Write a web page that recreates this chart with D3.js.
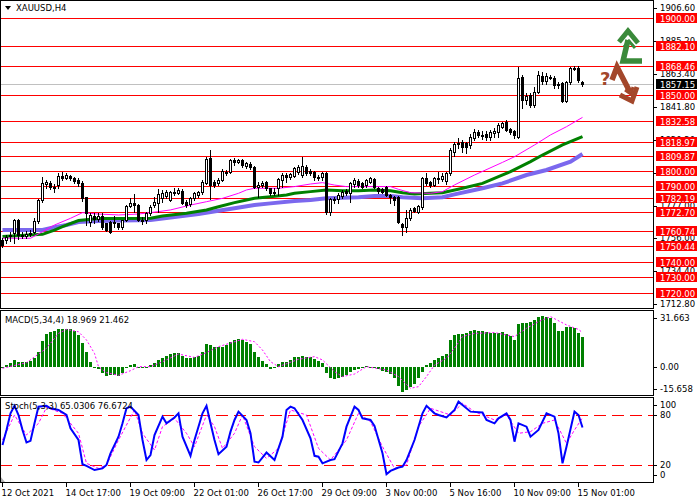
<!DOCTYPE html>
<html>
<head>
<meta charset="utf-8">
<script src="https://cdn.jsdelivr.net/npm/d3@7"></script>
<style>
  body { margin: 0; background: #fff; }
  svg text { font-family: "DejaVu Sans", sans-serif; font-size: 8.5px; }
</style>
</head>
<body>
<div id="viz"></div>
<script>
// XAUUSD H4 candles, 12 Oct 01:00 .. 15 Nov 05:00 (146 bars)
var openP = [1754.6,1754.6,1757,1759.0,1767.7,1758,1757.5,1758.5,1759.5,1767,
  1780.5,1791.1,1792.2,1789.6,1790.5,1796.5,1795.5,1796.5,1795,1794,
  1792.2,1782.5,1766.6,1770,1768.5,1770.3,1765.5,1766.6,1766.5,1765.5,
  1762.9,1767.7,1776.9,1779.1,1777.6,1767.7,1767.7,1772,1777.5,1778.6,
  1781.9,1783.4,1780.8,1786,1785.6,1786.9,1779.7,1778,1781.9,1784.1,
  1785.8,1791.7,1808.1,1792.8,1791.7,1793.9,1798.3,1799.4,1807,1806,
  1807,1803.1,1804.4,1802.2,1789.1,1790.6,1792.8,1788.5,1785.5,1788.5,
  1793.9,1797.2,1795.7,1796.6,1799,1797,1802.7,1800,1799,1795.7,
  1795.7,1798.3,1773.2,1781.3,1781.3,1783.4,1786.9,1785.2,1791.3,1793.5,
  1792.2,1790.6,1792.8,1794.8,1788.5,1787.8,1789.6,1784.1,1783,1783,
  1765.1,1763.3,1768.8,1775.4,1773.2,1776.4,1795,1792.8,1790.6,1794.6,
  1794.5,1793.5,1798.3,1812.5,1817.3,1818.6,1818,1816.9,1821.7,1825.6,
  1823.5,1823.9,1822.4,1824.5,1825.6,1828.9,1832.2,1827.4,1826,1822.4,
  1861.7,1846.4,1849.7,1843.1,1851.9,1862.4,1858.9,1861.7,1861.1,1856.3,
  1857.3,1845.8,1858,1867.6,1867.6,1858.5];
var highP = [1755.7,1757.9,1760,1768.1,1768.5,1760,1760.5,1761,1769,1781.5,
  1795.7,1794,1793.5,1791,1798.3,1799,1798.3,1797.5,1796,1795,
  1793,1783,1772,1772,1772.5,1772,1766,1767,1770.3,1766,
  1768,1777.5,1781.9,1784.8,1778.5,1769.5,1773,1777.5,1783,1787.8,
  1787.4,1787.4,1786.8,1788.5,1788.5,1788,1781,1783,1786,1787,
  1793.9,1809.2,1813.6,1794,1795,1800.9,1800.5,1807.5,1808.1,1808,
  1807.8,1806,1805.5,1803,1792.8,1793,1793.5,1789,1788.5,1795,
  1798.3,1798.3,1798.5,1802.5,1804,1809.2,1804,1801,1800,1797.2,
  1799.5,1799,1782,1782.6,1785.2,1787.4,1787.8,1792.8,1795,1794.4,
  1792.8,1794.8,1795.7,1795.2,1789.6,1788.5,1790,1784.6,1783.4,1783.4,
  1765.9,1774.3,1775.3,1776.4,1777.3,1795.7,1798.3,1793.5,1795.7,1799,
  1798.5,1799.5,1815,1819,1821.3,1820,1819,1824,1827.4,1827,
  1826,1826,1827,1828,1831.1,1832.2,1833,1828,1827,1868.3,
  1862.5,1851,1851,1855.2,1865.4,1864.5,1864,1862.5,1862,1858,
  1858.5,1859,1868.3,1868.5,1868.5,1859];
var lowP = [1750.2,1752.4,1754,1752.8,1755,1756,1756,1757,1759,1766,
  1779.5,1789,1788,1786,1789,1794,1794.5,1794,1792,1790,
  1780.2,1764.4,1763.8,1766,1767,1762,1760.6,1759.4,1762.9,1762,
  1761.6,1767,1776,1773.2,1767,1765,1766,1771,1776,1773.2,
  1779.7,1782,1780,1784,1784.5,1778,1776.5,1777,1781,1783,
  1785,1791,1781.3,1789.5,1790.5,1793,1797.5,1798.3,1803.8,1805,
  1802.7,1802,1801,1788.5,1783,1789.5,1787.5,1784,1784.1,1784.1,
  1789.6,1792.8,1794.5,1796,1798,1796,1797,1797,1794,1793.9,
  1794,1771.6,1771,1778.6,1778.6,1781.9,1784.1,1779.7,1789.6,1789.6,
  1788.5,1789.6,1792.2,1788.5,1785.6,1785.6,1783.4,1778.6,1777.5,1765.5,
  1757.9,1760,1767.7,1773,1772.5,1774.7,1790.6,1789.6,1790,1791.7,
  1793,1791,1797,1810,1815,1812.5,1811.4,1815,1820,1822,
  1821,1820,1820.2,1822,1822,1828,1826,1824,1821.5,1821.3,
  1840.9,1844,1842,1842,1851,1857,1857,1860,1854,1854.1,
  1845,1844.8,1857,1866,1858,1855.8];
var closeP = [1751.3,1756.8,1758,1767.7,1757.9,1757.5,1758.5,1759,1767.3,1780.8,
  1791.7,1792.8,1789.6,1788.5,1796.6,1795.5,1797,1795.5,1793.5,1791.7,
  1781.9,1772.5,1771,1768.5,1770.5,1762.9,1761.1,1760,1765.5,1763,
  1767.7,1776.9,1779.1,1777.5,1767.7,1767,1772.1,1776.4,1779.7,1784.8,
  1785.2,1786.3,1786.3,1785.5,1787.4,1778.6,1777.5,1781.9,1785.2,1786.3,
  1792.8,1807.7,1790.6,1790.6,1793.9,1800,1799.4,1807,1806,1807,
  1803.8,1804.9,1802.2,1789.6,1790.5,1792.2,1788.5,1785.2,1786.3,1794.4,
  1797.2,1796.1,1797.6,1801.6,1802.7,1803.1,1798.3,1798.3,1795.7,1795,
  1798.3,1773.2,1781.3,1780.5,1784.1,1786.3,1785.2,1791.7,1793.9,1790.6,
  1789.6,1793.9,1795,1789.6,1786.9,1786.3,1784.1,1782.6,1780.8,1766.6,
  1763.3,1768.8,1774.3,1773.8,1776.9,1795,1791.7,1790.6,1795,1795.5,
  1796.5,1798.3,1813.6,1817.3,1818.4,1815.8,1815.8,1822.4,1825.6,1823.5,
  1823,1822.4,1825.6,1826,1830,1831.1,1826.7,1825.6,1823.5,1861.1,
  1846.4,1849.3,1843.1,1851.9,1862.8,1858.9,1862.4,1861.1,1856.3,1857.2,
  1845.8,1858.4,1867.6,1866.7,1859.5,1857.15];

// moving averages (bar index, value)
var maFastIdx = [0,7,10,13,17,20,24,29,34,39,42,47,51,55,59,61,63,69,73,77,80,83,86,97,99,102,107,110,113,118,125,128,133,137,141,145];
var maFastVal = [1755.7,1755.7,1760,1764.4,1768.8,1772.5,1771.6,1771,1771.6,1773.2,1774.3,1777.5,1779.7,1781.9,1785.2,1787.4,1788.5,1788.5,1789.6,1791.3,1792.2,1790.6,1789.6,1789.6,1787.8,1785.6,1785.2,1786.3,1790.7,1797.2,1805.5,1809.2,1816.9,1823.5,1828.9,1835.0];
var maMidIdx = [0,10,13,15,19,24,30,37,40,46,51,54,58,61,63,67,71,73,77,81,85,89,93,97,100,103,107,110,115,120,124,127,132,135,140,145];
var maMidVal = [1756.8,1758.3,1761.1,1763.3,1767.3,1768.6,1768.6,1768.8,1770.3,1772.1,1774.3,1776.4,1779.1,1780.8,1781.9,1783,1784.1,1785.2,1786.3,1787.4,1786.9,1786.9,1787.4,1786.9,1785.6,1784.8,1785.2,1785.6,1788.5,1791.7,1796.1,1799.4,1806,1810.3,1816.9,1822.4];
var maSlowIdx = [0,10,13,16,19,24,30,37,42,49,54,58,63,67,73,77,81,89,93,97,100,105,110,113,120,125,131,136,142,145];
var maSlowVal = [1761.1,1761.1,1762.9,1764.4,1766.4,1767,1767.3,1767.7,1769.4,1771.6,1773.8,1775.4,1777.5,1778.6,1780.2,1780.8,1781.9,1782.6,1783.4,1783.4,1782.6,1781.9,1782.6,1784.5,1788.5,1791.7,1797.2,1800.5,1806,1811.0];

// horizontal levels
var levels = [1900.00,1882.10,1868.46,1850.00,1832.58,1818.97,1809.87,1800.00,1790.00,1782.19,1772.70,1760.74,1750.44,1740.00,1730.00,1720.00];
var lastPrice = 1857.15;
var priceTicks = [1906.60,1885.20,1863.40,1841.80,1820.20,1798.60,1777.00,1756.00,1734.40,1712.80];

// MACD(5,34,4)
var macdMain = [0.2,1,2.3,4.4,3.3,2.9,3.1,3.75,5.4,9.6,
  16.5,20.4,21.9,22.5,23.5,24,24,23.5,22.5,20,
  15.2,9.6,3.3,0.2,-1.5,-3.5,-5.6,-5.2,-5.2,-5.6,
  -4,-0.8,1,1.9,0.2,-0.8,-0.4,1,2.3,4.4,
  5.8,7.1,7.9,8.5,8.5,6.9,5.4,5.4,6,6.9,
  9.6,14.4,13.75,12.3,12.3,12.7,13.75,15.8,16.9,17.3,
  16.9,15.8,14.4,9.6,6,4,1.9,-1,0.2,1.9,
  3.1,3.3,4.4,6,6.5,6.9,6.5,6,4.8,4,
  2.3,-4,-7.1,-7.3,-6.9,-6,-5,-3.1,-1.9,-1.5,
  -0.8,0.4,0.2,-0.6,-1.5,-2.3,-2.9,-4.4,-7.1,-11.9,
  -15.6,-14.4,-12.3,-10.6,-7.1,-2.9,1,2.3,4.4,5.8,
  6.9,8.1,16.9,20,20.6,20.6,21.5,22.7,23.1,22.7,
  22.5,22.1,21.5,21.5,21.5,21.9,20.6,19.4,16.9,26.9,
  27.3,27.7,28.3,29.4,31.2,31.66,31.4,30.4,27.7,22.5,
  22.5,24.8,25.2,24.2,21,18.97];
var sigIdx = [0,6,11,14,16,19,21,23,24,26,29,32,34,37,40,44,48,51,54,60,63,65,67,69,74,78,80,83,85,88,91,96,99,102,104,106,108,111,113,115,118,123,128,131,134,137,141,144,145];
var sigVal = [-0.8,2.7,11.7,21,23.5,22,16.9,8.5,0.2,-3.5,-5.2,-2.3,0.2,0.2,3.3,8.1,6,9,12.7,17.3,15.8,10.6,3.3,0.2,4.8,6.5,4.4,-2.9,-6,-4.4,0.2,-1.9,-6,-13.3,-12.3,-6,1.2,5.4,11.7,19,21,21.5,19,24.2,28.3,31.5,26.3,23.5,21.46];
var macdTicks = [31.663, 0.00, -15.658];

// Stochastic(5,3,3)
var kIdx = [0,1,2,3,4,5,6,7,8,9,11,12,14,16,17,19,20,21,23,25,26,27,29,30,31,32,34,35,36,37,38,40,41,43,44,45,47,48,50,51,52,53,54,56,57,58,59,61,62,63,64,66,68,70,71,72,73,75,77,78,79,80,82,83,85,86,88,89,90,92,93,95,96,97,99,100,101,103,105,106,108,109,111,113,114,115,117,120,121,123,124,126,127,128,129,131,132,134,136,138,139,140,141,143,144,145];
var kVal = [44,62,82,91,80,62,47,49,70,90,91,88,86,80,64,50,21,19,14,16,20,34,54,70,88,90,80,50,26,32,56,78,70,77,82,54,31,50,82,91,70,50,33,42,60,74,84,74,58,24,23,35,26,54,86,90,88,74,52,31,30,22,26,27,46,66,90,86,76,74,67,34,9,13,17,18,26,50,82,91,82,80,77,86,96,92,84,83,74,70,76,82,74,48,70,66,54,62,82,78,58,22,42,84,80,65.03];
var dIdx = [0,3,6,9,11,15,19,21,24,26,29,33,35,38,40,43,46,48,51,53,55,58,60,63,66,69,72,76,79,82,86,89,92,95,98,101,104,107,112,115,118,123,126,129,132,135,138,141,143,145];
var dVal = [50,80,56,70,89,82,58,22,16,20,50,86,58,38,66,76,58,42,80,66,40,58,80,42,28,40,86,80,40,26,50,82,72,42,16,20,66,88,80,94,84,74,80,58,60,70,74,46,62,76.67];
var stochLevels = [80, 20];
var stochTicks = [100, 80, 20, 0];

// time axis
var timeIdx = [0,16,32,48,64,80,96,112,128,144];
var timeLabels = ["12 Oct 2021","14 Oct 17:00","19 Oct 09:00","22 Oct 01:00","26 Oct 17:00","29 Oct 09:00","3 Nov 00:00","5 Nov 16:00","10 Nov 09:00","15 Nov 01:00"];

var plotR = 653;

var svg = d3.select("#viz")
    .append("svg")
    .attr("width", 700)
    .attr("height", 500)
    .style("display", "block");

svg.append("rect").attr("width", 700).attr("height", 500).attr("fill", "#fff");

var x = d3.scaleLinear().domain([0, 145]).range([2.5, 582.5]);
var yP = d3.scaleLinear().domain([1720, 1900]).range([292.7, 18.3]);
var yM = d3.scaleLinear().domain([-17.5, 35]).range([395, 311]);
var yS = d3.scaleLinear().domain([0, 100]).range([481.7, 398.3]);

function px(v) { return Math.round(v) + 0.5; }

// ---- price panel ----
var price = svg.append("g");

price.selectAll(".lvl").data(levels).enter().append("line")
    .attr("x1", 0).attr("x2", plotR)
    .attr("y1", function(d) { return px(yP(d)); })
    .attr("y2", function(d) { return px(yP(d)); })
    .attr("stroke", "#ff0000").attr("stroke-width", 1);

price.append("line")
    .attr("x1", 0).attr("x2", plotR)
    .attr("y1", px(yP(lastPrice))).attr("y2", px(yP(lastPrice)))
    .attr("stroke", "#c0c0c0");

function maLine(idx, val, color, w) {
    var line = d3.line()
        .x(function(d) { return x(d); })
        .y(function(d, i) { return yP(val[i]); });
    price.append("path")
        .attr("d", line(idx))
        .attr("fill", "none")
        .attr("stroke", color)
        .attr("stroke-width", w);
}
maLine(maSlowIdx, maSlowVal, "#7b68ee", 4);
maLine(maMidIdx, maMidVal, "#008000", 3);
maLine(maFastIdx, maFastVal, "#ff00ff", 1);

var bars = d3.range(openP.length);

price.selectAll(".wick").data(bars).enter().append("line")
    .attr("x1", function(i) { return x(i); })
    .attr("x2", function(i) { return x(i); })
    .attr("y1", function(i) { return Math.round(yP(Math.max(highP[i], openP[i], closeP[i]))); })
    .attr("y2", function(i) { return Math.round(yP(Math.min(lowP[i], openP[i], closeP[i]))) + 1; })
    .attr("stroke", "#000");

price.selectAll(".body").data(bars).enter().append("rect")
    .attr("x", function(i) { return x(i) - 1; })
    .attr("width", 2)
    .attr("y", function(i) { return px(yP(Math.max(openP[i], closeP[i]))); })
    .attr("height", function(i) {
        return Math.max(0, Math.round(yP(Math.min(openP[i], closeP[i]))) - Math.round(yP(Math.max(openP[i], closeP[i]))));
    })
    .attr("fill", function(i) { return closeP[i] >= openP[i] ? "#fff" : "#000"; })
    .attr("stroke", "#000").attr("stroke-width", 1);

// right price axis
price.selectAll(".ptick").data(priceTicks).enter().append("line")
    .attr("x1", plotR).attr("x2", plotR + 4)
    .attr("y1", function(d) { return px(yP(d)); })
    .attr("y2", function(d) { return px(yP(d)); })
    .attr("stroke", "#000");
price.selectAll(".plab").data(priceTicks).enter().append("text")
    .attr("x", 660).attr("y", function(d) { return yP(d) + 3; })
    .text(function(d) { return d.toFixed(2); });

price.selectAll(".lbox").data(levels).enter().append("rect")
    .attr("x", 656).attr("width", 41)
    .attr("y", function(d) { return Math.round(yP(d)) - 5; })
    .attr("height", 10)
    .attr("fill", "#ff0000");
price.selectAll(".ltxt").data(levels).enter().append("text")
    .attr("x", 660).attr("y", function(d) { return Math.round(yP(d)) + 3.5; })
    .attr("fill", "#fff")
    .text(function(d) { return d.toFixed(2); });

price.append("rect")
    .attr("x", 656).attr("width", 41)
    .attr("y", Math.round(yP(lastPrice)) - 5).attr("height", 10)
    .attr("fill", "#000");
price.append("text")
    .attr("x", 660).attr("y", Math.round(yP(lastPrice)) + 3.5)
    .attr("fill", "#fff")
    .text(lastPrice.toFixed(2));

// title
price.append("path").attr("d", "M5,6 L11,6 L8,10 Z").attr("fill", "#000");
price.append("text").attr("x", 16).attr("y", 11).text("XAUUSD,H4");

// forecast arrows
var up = "#3a8a3a", down = "#a3472b";
price.append("path")
    .attr("d", "M642,61 L623,61 L628,40")
    .attr("fill", "none").attr("stroke", up).attr("stroke-width", 5.5)
    .attr("stroke-linejoin", "miter");
price.append("path")
    .attr("d", "M619,42 L628,31 L638,43")
    .attr("fill", "none").attr("stroke", up).attr("stroke-width", 5);
price.append("path")
    .attr("d", "M624,47 L629,41 L635,48")
    .attr("fill", "none").attr("stroke", up).attr("stroke-width", 3);
price.append("path")
    .attr("d", "M612,80 L617,67 L630,92")
    .attr("fill", "none").attr("stroke", down).attr("stroke-width", 5.5)
    .attr("stroke-linejoin", "miter");
price.append("path")
    .attr("d", "M620,95 L632,101 L637,87")
    .attr("fill", "none").attr("stroke", down).attr("stroke-width", 5);
price.append("path")
    .attr("d", "M625,90 L631,94 L633,87")
    .attr("fill", "none").attr("stroke", down).attr("stroke-width", 3);
price.append("text")
    .attr("x", 600).attr("y", 85)
    .attr("fill", down)
    .style("font-size", "18px").style("font-weight", "bold")
    .text("?");

// ---- MACD panel ----
var macd = svg.append("g");
macd.selectAll(".mbar").data(bars).enter().append("rect")
    .attr("x", function(i) { return x(i) - 1.5; })
    .attr("width", 3)
    .attr("y", function(i) { return Math.round(Math.min(yM(0), yM(macdMain[i]))); })
    .attr("height", function(i) { return Math.max(1, Math.round(Math.abs(yM(macdMain[i]) - yM(0)))); })
    .attr("fill", "#008000");

var sigLine = d3.line()
    .x(function(d) { return x(d); })
    .y(function(d, i) { return yM(sigVal[i]); });
macd.append("path")
    .attr("d", sigLine(sigIdx))
    .attr("fill", "none").attr("stroke", "#ff00ff")
    .attr("stroke-width", 1).attr("stroke-dasharray", "2,2");

macd.append("text").attr("x", 5).attr("y", 323).text("MACD(5,34,4) 18.969 21.462");

macd.selectAll(".mtick").data(macdTicks).enter().append("line")
    .attr("x1", plotR).attr("x2", plotR + 4)
    .attr("y1", function(d, i) { return px(yM(d) + [2, 0, -3][i]); })
    .attr("y2", function(d, i) { return px(yM(d) + [2, 0, -3][i]); })
    .attr("stroke", "#000");
macd.selectAll(".mlab").data(macdTicks).enter().append("text")
    .attr("x", 660).attr("y", function(d, i) { return yM(d) + [2, 0, -3][i] + 3; })
    .text(function(d) { return d === 0 ? "0.00" : d.toFixed(3); });

// ---- Stochastic panel ----
var stoch = svg.append("g");
stoch.selectAll(".slvl").data(stochLevels).enter().append("line")
    .attr("x1", 0).attr("x2", plotR)
    .attr("y1", function(d) { return px(yS(d)); })
    .attr("y2", function(d) { return px(yS(d)); })
    .attr("stroke", "#ff0000").attr("stroke-dasharray", "12,6");

var dLine = d3.line()
    .x(function(d) { return x(d); })
    .y(function(d, i) { return yS(dVal[i]); });
stoch.append("path")
    .attr("d", dLine(dIdx))
    .attr("fill", "none").attr("stroke", "#ff00ff")
    .attr("stroke-width", 1).attr("stroke-dasharray", "3,2");

var kLine = d3.line()
    .x(function(d) { return x(d); })
    .y(function(d, i) { return yS(kVal[i]); });
stoch.append("path")
    .attr("d", kLine(kIdx))
    .attr("fill", "none").attr("stroke", "#0000ff")
    .attr("stroke-width", 2);

stoch.append("text").attr("x", 5).attr("y", 409).text("Stoch(5,3,3) 65.0306 76.6724");

var stochLabY = function(d) { return d === 100 ? yS(d) + 7 : (d === 0 ? yS(d) - 7 : yS(d)); };
stoch.selectAll(".stick").data(stochTicks).enter().append("line")
    .attr("x1", plotR).attr("x2", plotR + 4)
    .attr("y1", function(d) { return px(stochLabY(d)); })
    .attr("y2", function(d) { return px(stochLabY(d)); })
    .attr("stroke", "#000");
stoch.selectAll(".slab").data(stochTicks).enter().append("text")
    .attr("x", 660).attr("y", function(d) { return stochLabY(d) + 3; })
    .text(function(d) { return d; });

stoch.append("path").attr("d", "M0,476 L0,482 L5,482 Z").attr("fill", "#b0b0b0");

// ---- frames ----
var frames = [[0, 308], [310, 395], [397, 482]];
svg.selectAll(".frame").data(frames).enter().append("rect")
    .attr("x", 0.5).attr("width", plotR)
    .attr("y", function(d) { return d[0] + 0.5; })
    .attr("height", function(d) { return d[1] - d[0]; })
    .attr("fill", "none").attr("stroke", "#000");

// ---- time axis ----
svg.selectAll(".ttick").data(timeIdx).enter().append("line")
    .attr("x1", function(d) { return x(d); })
    .attr("x2", function(d) { return x(d); })
    .attr("y1", 482).attr("y2", 487)
    .attr("stroke", "#000");
svg.selectAll(".tlab").data(timeIdx).enter().append("text")
    .attr("x", function(d) { return x(d) - 1; })
    .attr("y", 496)
    .text(function(d, i) { return timeLabels[i]; });
</script>
</body>
</html>
